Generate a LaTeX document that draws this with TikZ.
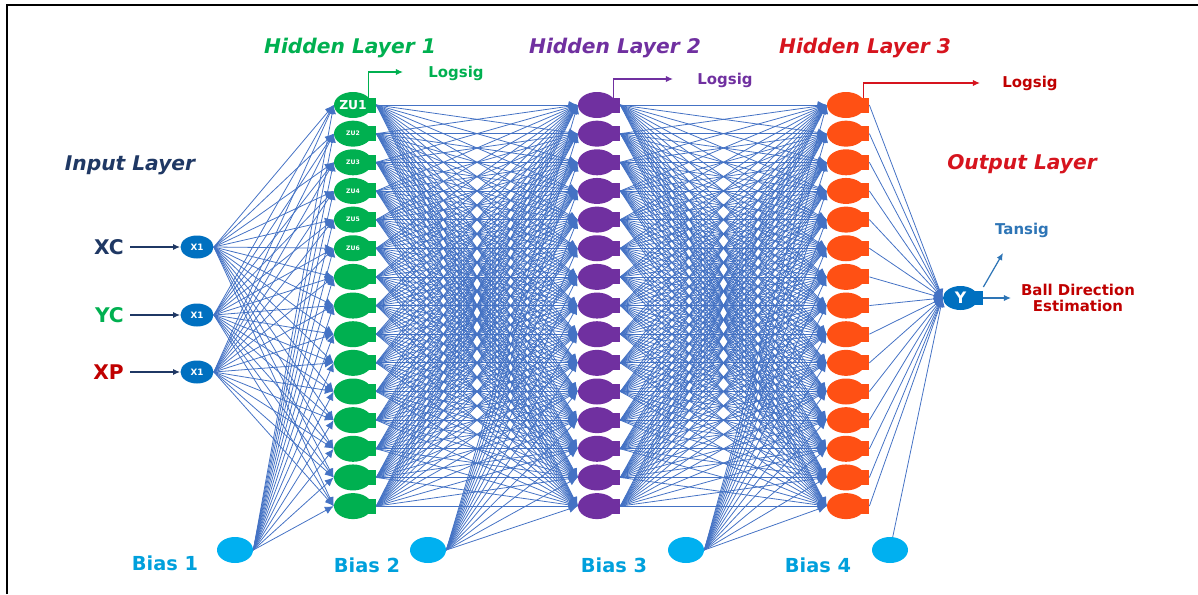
\documentclass[tikz,border=0pt]{standalone}
\usepackage{fontspec}
\setmainfont{DejaVu Sans}
\usetikzlibrary{arrows.meta}
\usetikzlibrary{shapes.geometric}

\definecolor{wireblue}{RGB}{68,114,196}
\definecolor{navy}{RGB}{31,56,100}
\definecolor{nodeblue}{RGB}{0,112,192}
\definecolor{leafgreen}{RGB}{0,176,80}
\definecolor{plum}{RGB}{112,48,160}
\definecolor{tangerine}{RGB}{255,80,20}
\definecolor{brightred}{RGB}{214,20,30}
\definecolor{darkred}{RGB}{192,0,0}
\definecolor{skyfill}{RGB}{0,176,240}
\definecolor{skytext}{RGB}{0,160,220}
\definecolor{steel}{RGB}{46,117,182}

\tikzset{neuron/.style = {ellipse, inner sep = 0, minimum width = 0.76cm, minimum height = 0.52cm}}
\tikzset{inode/.style = {ellipse, fill = nodeblue, inner sep = 0, minimum width = 0.66cm, minimum height = 0.46cm,
                         text = white, font = \fontsize{5}{6}\selectfont\bfseries}}
\tikzset{biasdot/.style = {ellipse, fill = skyfill, inner sep = 0, minimum width = 0.72cm, minimum height = 0.52cm}}
\tikzset{wire/.style = {draw = wireblue, line width = 0.45pt, -{Latex[length=5pt, width=4.5pt]}}}
\tikzset{feed/.style = {draw = navy, line width = 0.8pt, -{Latex[length=4pt, width=3.5pt]}}}
\tikzset{tap/.style = {line width = 0.7pt, -{Latex[length=4pt, width=3.5pt]}}}
\tikzset{layertitle/.style = {font = \fontsize{11.5}{13}\selectfont\bfseries\itshape}}
\tikzset{biastext/.style = {text = skytext, font = \fontsize{11}{13}\selectfont\bfseries}}
\tikzset{small/.style = {font = \fontsize{8.5}{10}\selectfont\bfseries}}

\begin{document}
\begin{tikzpicture}
    \useasboundingbox (0, 0) rectangle (23.96, 11.88);
    \draw [line width = 1.1pt] (0.14, 0) -- (0.14, 11.78) -- (23.96, 11.78);

    \foreach \l/\x/\c in {1/7.06/leafgreen, 2/11.94/plum, 3/16.92/tangerine} {
      \foreach \i in {1, ..., 15} {
        \node [neuron, fill = \c] (h\l-\i) at (\x, {9.78 - (\i - 1) * 0.573}) {};
        \fill [\c] ([xshift = -0.18cm, yshift = -0.15cm]h\l-\i.east) rectangle ([xshift = 0.08cm, yshift = 0.15cm]h\l-\i.east);
        \coordinate (h\l-\i-out) at ([xshift = 0.08cm]h\l-\i.east);
      }
    }
    \node [white, font = \fontsize{7}{8}\selectfont\bfseries] at (h1-1) {ZU1};
    \foreach \i in {2, ..., 6}
      \node [white, font = \fontsize{3.5}{4}\selectfont\bfseries] at (h1-\i) {ZU\i};

    \node [inode] (x1) at (3.94, 6.94) {X1};
    \node [inode] (x2) at (3.94, 5.58) {X1};
    \node [inode] (x3) at (3.94, 4.44) {X1};
    \node [anchor = east, text = navy, font = \fontsize{11.5}{13}\selectfont\bfseries] (xc) at (2.6, 6.94) {XC};
    \node [anchor = east, text = leafgreen, font = \fontsize{11.5}{13}\selectfont\bfseries] (yc) at (2.6, 5.58) {YC};
    \node [anchor = east, text = darkred, font = \fontsize{11.5}{13}\selectfont\bfseries] (xp) at (2.6, 4.44) {XP};
    \draw [feed] (xc) -- (x1);
    \draw [feed] (yc) -- (x2);
    \draw [feed] (xp) -- (x3);

    \node [biasdot] (b1) at (4.70, 0.88) {};
    \node [biasdot] (b2) at (8.56, 0.88) {};
    \node [biasdot] (b3) at (13.72, 0.88) {};
    \node [biasdot] (b4) at (17.80, 0.88) {};
    \node [biastext] (bl1) at (3.30, 0.62) {Bias 1};
    \node [biastext] (bl2) at (7.34, 0.58) {Bias 2};
    \node [biastext] (bl3) at (12.28, 0.58) {Bias 3};
    \node [biastext] (bl4) at (16.36, 0.58) {Bias 4};

    \node [ellipse, fill = nodeblue, inner sep = 0, minimum width = 0.7cm, minimum height = 0.48cm,
           text = white, font = \fontsize{9}{10}\selectfont\bfseries] (y) at (19.21, 5.92) {Y};
    \fill [nodeblue] ([xshift = -0.16cm, yshift = -0.14cm]y.east) rectangle ([xshift = 0.1cm, yshift = 0.14cm]y.east);
    \coordinate (y-out) at ([xshift = 0.1cm]y.east);

    \foreach \j in {1, ..., 15} {
      \foreach \n in {1, 2, 3}
        \draw [wire] (x\n.east) -- (h1-\j.west);
      \draw [wire] (b1.east) -- (h1-\j.west);
      \draw [wire] (b2.east) -- (h2-\j.west);
      \draw [wire] (b3.east) -- (h3-\j.west);
      \draw [wire] (h3-\j-out) -- (y.west);
      \foreach \i in {1, ..., 15} {
        \draw [wire] (h1-\i-out) -- (h2-\j.west);
        \draw [wire] (h2-\i-out) -- (h3-\j.west);
      }
    }
    \draw [wire] (b4) -- (y.west);

    \coordinate (lg1) at (8.06, 10.44);
    \coordinate (lg2) at (13.46, 10.30);
    \coordinate (lg3) at (19.60, 10.22);
    \draw [tap, leafgreen] ([xshift = -0.08cm, yshift = 0.15cm]h1-1.east) |- (lg1);
    \draw [tap, plum] ([xshift = -0.06cm, yshift = 0.15cm]h2-1.east) |- (lg2);
    \draw [tap, brightred] ([xshift = -0.04cm, yshift = 0.15cm]h3-1.east) |- (lg3);
    \node [small, text = leafgreen] (ls1) at (9.12, 10.42) {Logsig};
    \node [small, text = plum] (ls2) at (14.50, 10.28) {Logsig};
    \node [small, text = darkred] (ls3) at (20.60, 10.22) {Logsig};

    \coordinate (ts) at (20.06, 6.82);
    \coordinate (est) at (20.22, 5.92);
    \draw [tap, steel] ([yshift = 0.22cm]y-out) -- (ts);
    \draw [tap, steel] (y-out) -- (est);
    \node [small, text = steel] (tan) at (20.44, 7.28) {Tansig};
    \node [text = darkred, align = center, font = \fontsize{8.5}{9.5}\selectfont\bfseries] (dir) at (21.56, 5.92) {Ball Direction\\Estimation};

    \node [layertitle, text = navy] (inl) at (2.60, 8.58) {Input Layer};
    \node [layertitle, text = leafgreen] (hl1) at (7.00, 10.92) {Hidden Layer 1};
    \node [layertitle, text = plum] (hl2) at (12.30, 10.92) {Hidden Layer 2};
    \node [layertitle, text = brightred] (hl3) at (17.30, 10.92) {Hidden Layer 3};
    \node [layertitle, text = brightred] (outl) at (20.44, 8.60) {Output Layer};
  \end{tikzpicture}
\end{document}
